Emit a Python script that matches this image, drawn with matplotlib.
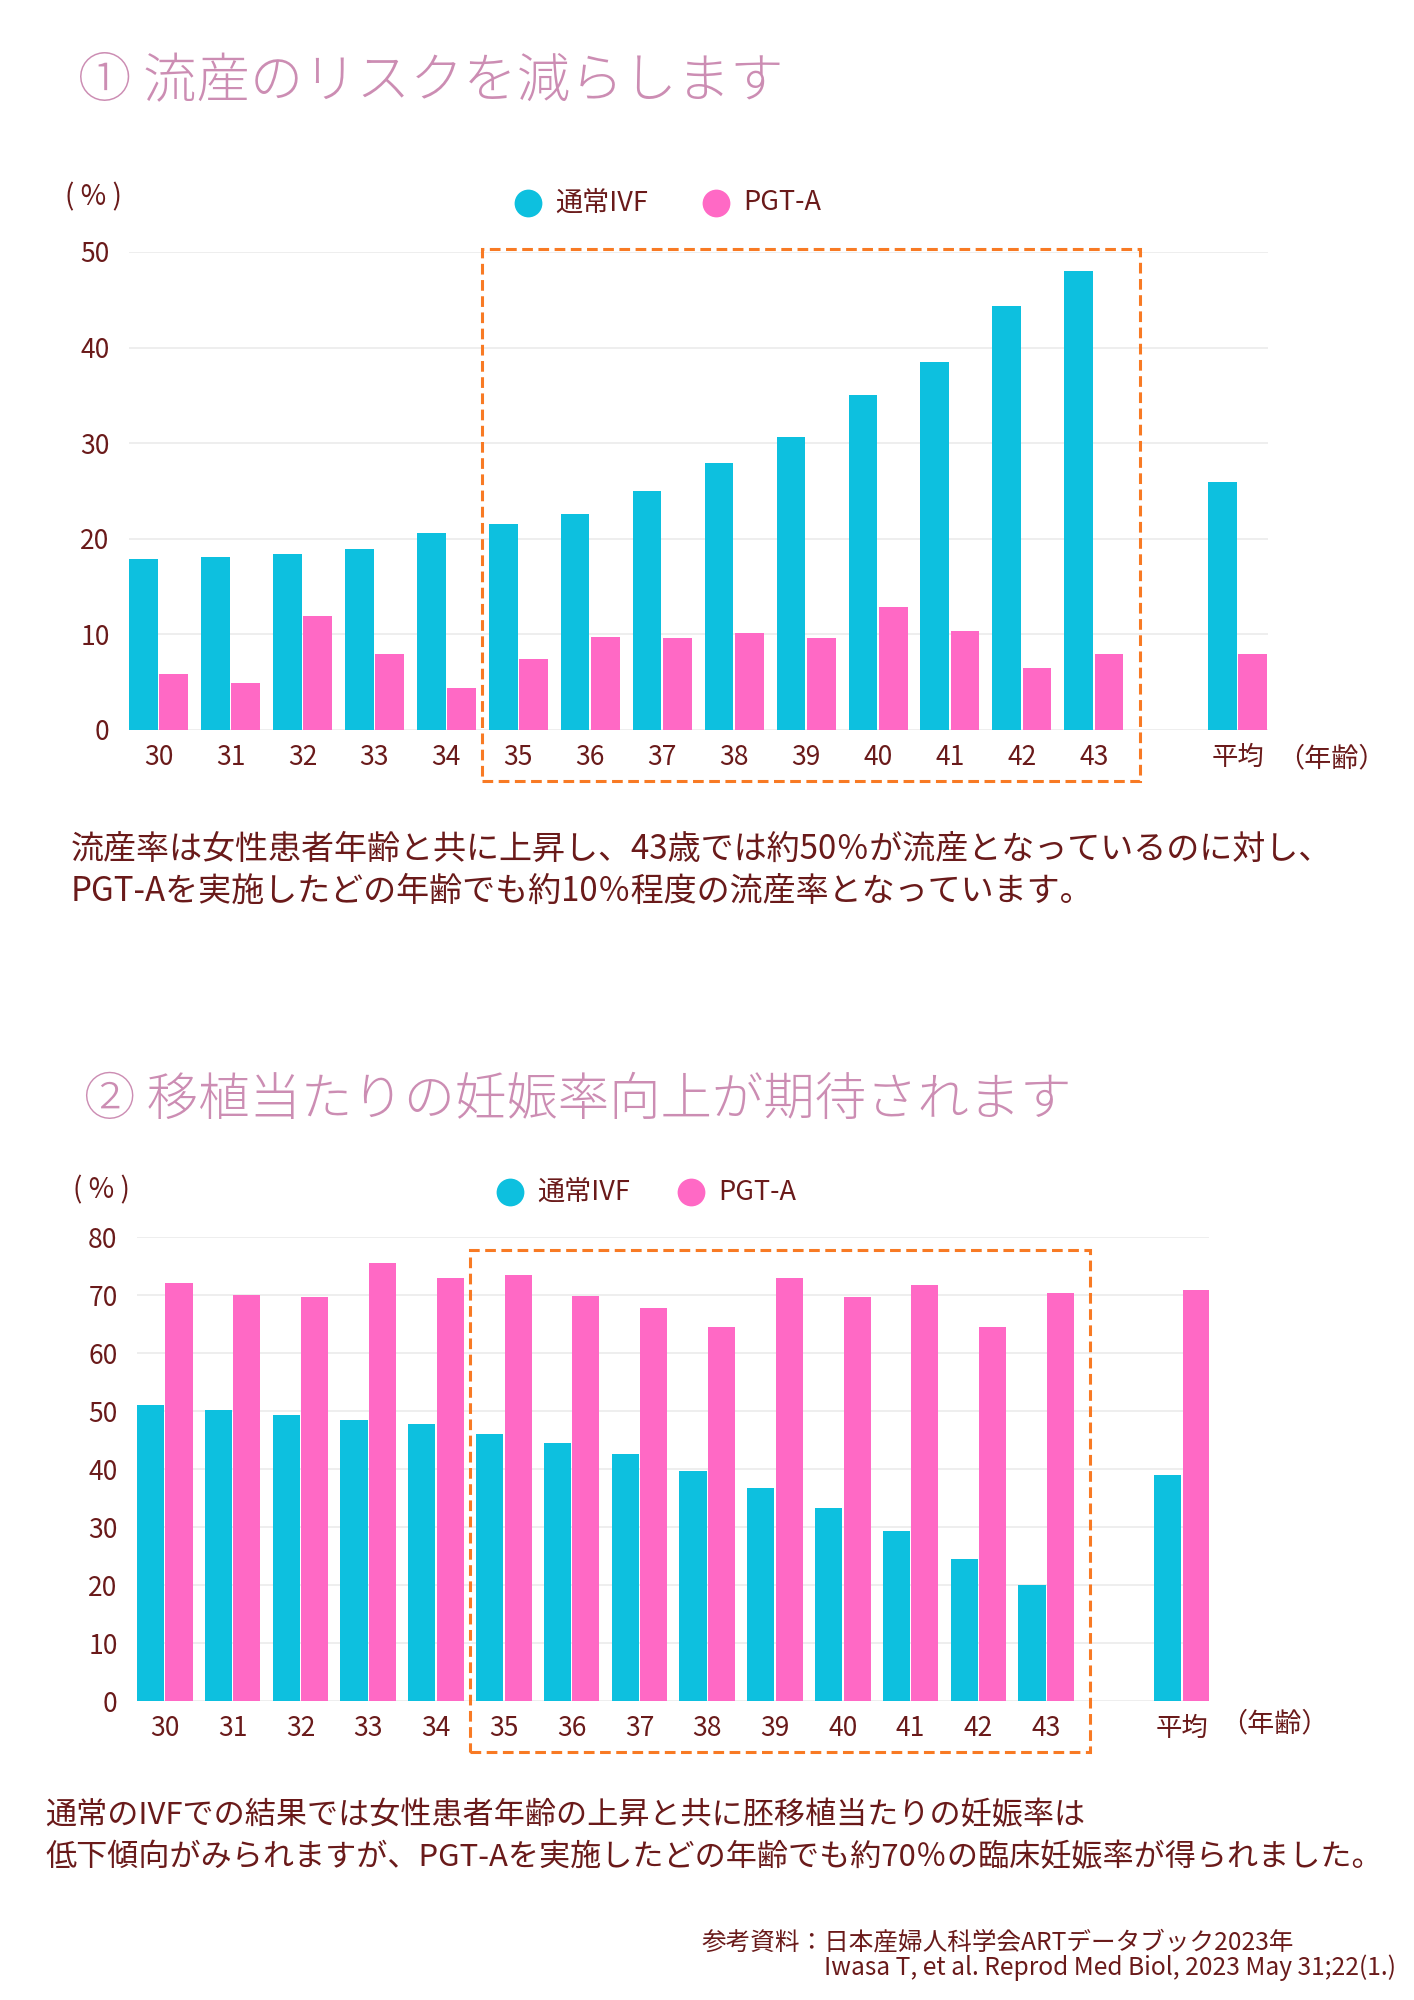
import matplotlib
matplotlib.use("Agg")
import matplotlib.pyplot as plt
import numpy as np
from matplotlib.patches import Rectangle
from matplotlib.transforms import blended_transform_factory

plt.rcParams['font.family'] = ['Noto Sans CJK JP', 'DejaVu Sans']

# ---------------- data ----------------
ages = ["30", "31", "32", "33", "34", "35", "36", "37", "38", "39", "40", "41", "42", "43", "平均"]
series_names = ["通常IVF", "PGT-A"]

miscarriage_ivf = [17.9, 18.1, 18.4, 18.9, 20.6, 21.5, 22.6, 25.0, 27.9, 30.6, 35.0, 38.5, 44.3, 48.0, 25.9]
miscarriage_pgta = [5.9, 4.9, 11.9, 7.9, 4.4, 7.4, 9.7, 9.6, 10.1, 9.6, 12.9, 10.4, 6.5, 7.9, 7.9]

pregnancy_ivf = [51.1, 50.1, 49.3, 48.5, 47.8, 46.0, 44.4, 42.6, 39.7, 36.8, 33.2, 29.3, 24.4, 20.0, 39.0]
pregnancy_pgta = [72.0, 70.0, 69.6, 75.6, 73.0, 73.5, 69.8, 67.8, 64.5, 72.9, 69.6, 71.8, 64.5, 70.3, 70.8]

title1 = "① 流産のリスクを減らします"
title2 = "② 移植当たりの妊娠率向上が期待されます"
text1 = ["流産率は女性患者年齢と共に上昇し、43歳では約50％が流産となっているのに対し、",
         "PGT-Aを実施したどの年齢でも約10％程度の流産率となっています。"]
text2 = ["通常のIVFでの結果では女性患者年齢の上昇と共に胚移植当たりの妊娠率は",
         "低下傾向がみられますが、PGT-Aを実施したどの年齢でも約70％の臨床妊娠率が得られました。"]
source1 = "参考資料：日本産婦人科学会ARTデータブック2023年"
source2 = "Iwasa T, et al. Reprod Med Biol, 2023 May 31;22(1.)"

# ---------------- style ----------------
C_IVF = "#0DC0DF"
C_PGT = "#FF69C5"
C_TXT = "#6A1A1A"
C_TITLE = "#CC8DB3"
C_BOX = "#F87A24"
C_GRID = "#EBEBEB"

W, H = 1414, 2000
fig = plt.figure(figsize=(W / 100, H / 100), dpi=100)
fig.patch.set_facecolor("white")

# x positions: 14 ages, then a gap, then average
xpos = np.array(list(range(14)) + [15], dtype=float)
bw = 0.4
gap = 0.02


def make_chart(rect_px, ylim, yticks, ivf, pgt, xlim, box_y):
    l, t, r, b = rect_px
    ax = fig.add_axes([l / W, 1 - b / H, (r - l) / W, (b - t) / H])
    ax.bar(xpos - bw / 2 - gap / 2, ivf, width=bw, color=C_IVF, zorder=3)
    ax.bar(xpos + bw / 2 + gap / 2, pgt, width=bw, color=C_PGT, zorder=3)
    ax.set_xlim(*xlim)
    ax.set_ylim(*ylim)
    ax.set_yticks(yticks)
    ax.set_yticklabels([str(v) for v in yticks])
    ax.set_xticks(xpos)
    ax.set_xticklabels(ages)
    for s in ax.spines.values():
        s.set_visible(False)
    ax.grid(axis="y", color=C_GRID, linewidth=1.2, zorder=0)
    ax.tick_params(axis="both", length=0, labelsize=19, labelcolor=C_TXT)
    ax.tick_params(axis="x", pad=10)
    ax.tick_params(axis="y", pad=14)
    # dashed highlight box around ages 35-43
    trans = blended_transform_factory(ax.transData, ax.transAxes)
    x0 = 4.5
    x1 = 13 + bw + gap + 0.22
    y0, y1 = box_y
    ax.add_patch(Rectangle((x0, y0), x1 - x0, y1 - y0, transform=trans,
                           fill=False, edgecolor=C_BOX, linewidth=2.2,
                           linestyle=(0, (3.5, 1.8)), clip_on=False, zorder=5))
    return ax


ax1 = make_chart((129, 252, 1268, 730), (0, 50), [0, 10, 20, 30, 40, 50],
                 miscarriage_ivf, miscarriage_pgta, (-0.41, 15.42), (-0.106, 1.006))
ax2 = make_chart((137, 1237, 1209, 1701), (0, 80), [0, 10, 20, 30, 40, 50, 60, 70, 80],
                 pregnancy_ivf, pregnancy_pgta, (-0.41, 15.4), (-0.109, 0.972))

# overlay in pixel coordinates for texts and legends
ov = fig.add_axes([0, 0, 1, 1], zorder=10)
ov.set_xlim(0, W)
ov.set_ylim(H, 0)
ov.axis("off")
ov.patch.set_alpha(0)

# titles
ov.text(78, 81, title1, fontsize=38.4, color=C_TITLE, va="center", ha="left", fontweight="light")
ov.text(84, 1100, title2, fontsize=37, color=C_TITLE, va="center", ha="left", fontweight="light")

# unit labels
ov.text(93, 197, "( % )", fontsize=20, color=C_TXT, va="center", ha="center")
ov.text(101, 1190, "( % )", fontsize=20, color=C_TXT, va="center", ha="center")
ov.text(1277, 759, "（年齢）", fontsize=19.5, color=C_TXT, va="center", ha="left")
ov.text(1220, 1724, "（年齢）", fontsize=19.5, color=C_TXT, va="center", ha="left")

# legends
for (dx1, dx2, ly) in [(528, 716, 203), (510, 691, 1192)]:
    ov.plot([dx1], [ly], "o", ms=20, color=C_IVF, mec="none")
    ov.text(dx1 + 27.5, ly, series_names[0], fontsize=19.5, color=C_TXT, va="center", ha="left")
    ov.plot([dx2], [ly], "o", ms=20, color=C_PGT, mec="none")
    ov.text(dx2 + 27.5, ly, series_names[1], fontsize=19.5, color=C_TXT, va="center", ha="left")

# paragraphs
ov.text(71, 849, text1[0], fontsize=23.8, color=C_TXT, va="center", ha="left")
ov.text(71, 891, text1[1], fontsize=23.8, color=C_TXT, va="center", ha="left")
ov.text(45, 1816, text2[0], fontsize=22.4, color=C_TXT, va="center", ha="left")
ov.text(45, 1858, text2[1], fontsize=22.4, color=C_TXT, va="center", ha="left")

# source
ov.text(701, 1943, source1, fontsize=17.7, color=C_TXT, va="center", ha="left")
ov.text(824, 1968, source2, fontsize=17.7, color=C_TXT, va="center", ha="left")

fig.savefig("out.png", dpi=100, facecolor="white")
